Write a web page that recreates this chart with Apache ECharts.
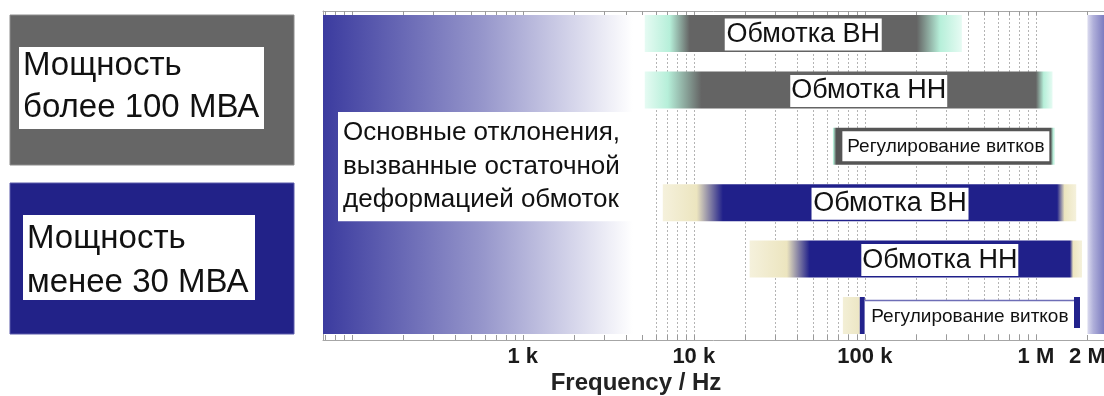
<!DOCTYPE html>
<html>
<head>
<meta charset="utf-8">
<script src="https://cdn.jsdelivr.net/npm/echarts@6.0.0/dist/echarts.min.js"></script>
<style>
html,body{margin:0;padding:0;background:#ffffff;}
#chart{width:1104px;height:396px;}
</style>
</head>
<body>
<div id="chart"></div>
<script>
// ---------------- data ----------------
const freqMin = 68;
const freqMax = 2500000;

const rowTexts = ['Обмотка ВН', 'Обмотка НН', 'Регулирование витков', 'Обмотка ВН', 'Обмотка НН', 'Регулирование витков'];
const rowClass = ['high', 'high', 'highTap', 'low', 'low', 'lowTap'];

// frequency ranges of each band (Hz)
const bandStart   = [5170,   5170,    65000,   6590,    21200,   74400];
const edgeIn      = [7240,   7050,    65500,   10400,   35000,   93400];
const coreStart   = [9470,   11100,   68000,   14800,   47600,   93400];
const coreEnd     = [201000, 1000000, 1220000, 1330000, 1580000, 1810000];
const edgeOut     = [275000, 1110000, 1260000, 1470000, 1650000, 1810000];
const bandEnd     = [369000, 1250000, 1290000, 1720000, 1860000, 1810000];

const residualBand = [freqMin, 5000];
const residualText = ['Основные отклонения,', 'вызванные остаточной', 'деформацией обмоток'];
const highBand = [2000000, freqMax];

const gridFreqs = [6000, 7000, 8000, 9000, 10000, 20000, 30000, 40000, 50000, 60000, 70000, 80000, 90000,
  100000, 200000, 300000, 400000, 500000, 600000, 700000, 800000, 900000, 1000000];
const tickFreqs = [70, 80, 90, 100, 200, 300, 400, 500, 600, 700, 800, 900, 1000, 2000, 3000, 4000, 5000,
  6000, 7000, 8000, 9000, 10000, 20000, 30000, 40000, 50000, 60000, 70000, 80000, 90000, 100000,
  200000, 300000, 400000, 500000, 600000, 700000, 800000, 900000, 1000000, 2000000];
const labelFreqs = [1000, 10000, 100000, 1000000, 2000000];
const labelTexts = ['1 k', '10 k', '100 k', '1 M', '2 M'];
const axisTitle = 'Frequency / Hz';
const legendLines = [['Мощность', 'более 100 МВА'], ['Мощность', 'менее 30 МВА']];

// ---------------- styles ----------------
const BAR_H = 0.656;
const PAL = {
  high: { soft: '#e6fbf3', edge: '#b6efd9', core: '#646464' },
  highTap: { soft: '#dff8ee', edge: '#b6efd9', core: '#555555' },
  low: { soft: '#f5f1dc', edge: '#ece5bf', core: '#20208a' },
  lowTap: { soft: '#f3efd6', edge: '#ece6c4', core: '#22228c' }
};
const FONT_WIND = '27px "Liberation Sans", Arial, sans-serif';
const FONT_TAP = '19px "Liberation Sans", Arial, sans-serif';
const FONT_NOTE = '26px "Liberation Sans", Arial, sans-serif';
const FONT_LEG = '33px "Liberation Sans", Arial, sans-serif';
const AXIS_COL = '#a6a6a6';

function renderRow(params, api) {
  const i = api.value(1);
  const cls = rowClass[i];
  const pal = PAL[cls];
  const yTop = api.coord([freqMin, i - BAR_H / 2])[1];
  const yBot = api.coord([freqMin, i + BAR_H / 2])[1];
  const px = f => api.coord([f, i])[0];
  const x0 = px(bandStart[i]), x1 = px(edgeIn[i]), x2 = px(coreStart[i]);
  const x3 = px(coreEnd[i]), x4 = px(edgeOut[i]), x5 = px(bandEnd[i]);
  const w = x5 - x0;
  const off = x => Math.min(1, Math.max(0, (x - x0) / w));
  const children = [];
  if (cls === 'lowTap') {
    children.push({ type: 'rect', shape: { x: x0, y: yTop, width: x2 - x0, height: yBot - yTop },
      style: { fill: new echarts.graphic.LinearGradient(0, 0, 1, 0, [
        { offset: 0, color: pal.soft }, { offset: 1, color: pal.edge }]) } });
    children.push({ type: 'rect', shape: { x: x2, y: yTop, width: 5, height: yBot - yTop }, style: { fill: pal.core } });
    children.push({ type: 'rect', shape: { x: x5 - 6, y: yTop, width: 6, height: yBot - yTop - 6 }, style: { fill: pal.core } });
    children.push({ type: 'rect', shape: { x: x2 + 5, y: yTop + 3, width: x5 - x2 - 11, height: yBot - yTop - 3 },
      style: { fill: '#ffffff', stroke: null } });
    children.push({ type: 'line', shape: { x1: x2 + 5, y1: yTop + 3.5, x2: x5 - 6, y2: yTop + 3.5 },
      style: { stroke: '#6e6eb6', lineWidth: 1.5 } });
    children.push({ type: 'text', x: (x2 + x5) / 2, y: (yTop + 3 + yBot) / 2,
      style: { text: rowTexts[i], font: FONT_TAP, fill: '#111111', align: 'center', verticalAlign: 'middle' } });
    return { type: 'group', children };
  }
  const grad = new echarts.graphic.LinearGradient(0, 0, 1, 0, [
    { offset: 0, color: pal.soft },
    { offset: off(x1), color: pal.edge },
    { offset: off(x2), color: pal.core },
    { offset: off(x3), color: pal.core },
    { offset: off(x4), color: pal.edge },
    { offset: 1, color: pal.soft }
  ]);
  children.push({ type: 'rect', shape: { x: x0, y: yTop, width: w, height: yBot - yTop }, style: { fill: grad } });
  const isTap = cls === 'highTap';
  const bw = isTap ? 207 : 157;
  const bh = isTap ? 30 : 32;
  const cx = isTap ? (x0 + x5) / 2 + 2 : (x2 + x3) / 2;
  const cy = (yTop + yBot) / 2 + (isTap ? 0 : 1);
  children.push({ type: 'rect', shape: { x: cx - bw / 2, y: cy - bh / 2, width: bw, height: bh }, style: { fill: '#ffffff' } });
  children.push({ type: 'text', x: cx, y: cy, style: { text: rowTexts[i], font: isTap ? FONT_TAP : FONT_WIND,
    fill: '#111111', align: 'center', verticalAlign: 'middle' } });
  return { type: 'group', children };
}

function renderResidual(params, api) {
  const yTop = api.coord([freqMin, -BAR_H / 2])[1];
  const yBot = api.coord([freqMin, 5 + BAR_H / 2])[1];
  const xa = api.coord([residualBand[0], 0])[0];
  const xb = api.coord([residualBand[1], 0])[0];
  const boxTop = api.coord([freqMin, 1.39])[1];
  const boxBot = api.coord([freqMin, 3.33])[1];
  const children = [
    { type: 'rect', shape: { x: xa, y: yTop, width: xb - xa, height: yBot - yTop },
      style: { fill: new echarts.graphic.LinearGradient(0, 0, 1, 0, [
        { offset: 0, color: '#3b3b9f' }, { offset: 0.5, color: '#9696cb' }, { offset: 0.97, color: '#ffffff' }, { offset: 1, color: '#ffffff' }]) } },
    { type: 'rect', shape: { x: xa + 15, y: boxTop, width: 297, height: boxBot - boxTop }, style: { fill: '#ffffff' } }
  ];
  residualText.forEach((t, k) => {
    children.push({ type: 'text', x: xa + 20, y: boxTop + 21 + k * 33.5,
      style: { text: t, font: FONT_NOTE, fill: '#111111', align: 'left', verticalAlign: 'middle' } });
  });
  return { type: 'group', children };
}

function renderHigh(params, api) {
  const yTop = api.coord([freqMin, -BAR_H / 2])[1];
  const yBot = api.coord([freqMin, 5 + BAR_H / 2])[1];
  const xa = api.coord([highBand[0], 0])[0];
  const xb = api.coord([highBand[1], 0])[0];
  return { type: 'rect', shape: { x: xa, y: yTop, width: xb - xa, height: yBot - yTop },
    style: { fill: new echarts.graphic.LinearGradient(0, 0, 1, 0, [
      { offset: 0, color: '#dcdcef' }, { offset: 0.35, color: '#b0b0da' }, { offset: 1, color: '#7c7cc0' }]) } };
}

function renderGrid(params, api) {
  const cs = params.coordSys;
  const x = Math.round(api.coord([api.value(0), 0])[0]) + 0.5;
  return { type: 'line', shape: { x1: x, y1: cs.y + 3, x2: x, y2: cs.y + cs.height },
    style: { stroke: '#b4b4b4', lineWidth: 1, lineDash: [2, 2] } };
}

function renderTick(params, api) {
  const cs = params.coordSys;
  const x = Math.round(api.coord([api.value(0), 0])[0]) + 0.5;
  return { type: 'group', children: [
    { type: 'line', shape: { x1: x, y1: cs.y, x2: x, y2: cs.y + 4 }, style: { stroke: '#9a9a9a', lineWidth: 1 } },
    { type: 'line', shape: { x1: x, y1: cs.y + cs.height - 5, x2: x, y2: cs.y + cs.height }, style: { stroke: '#9a9a9a', lineWidth: 1 } }
  ] };
}

const chart = echarts.init(document.getElementById('chart'), null, { renderer: 'canvas' });

const xAxisBase = {
  type: 'log', logBase: 10, min: freqMin, max: freqMax,
  axisLine: { show: true, onZero: false, lineStyle: { color: AXIS_COL, width: 1 } },
  axisTick: { show: false },
  splitLine: { show: false }, minorTick: { show: false }, minorSplitLine: { show: false }
};

const graphic = [
  { type: 'rect', shape: { x: 10, y: 15, width: 284, height: 150 }, style: { fill: '#666666', stroke: '#8c8c8c', lineWidth: 1 } },
  { type: 'rect', shape: { x: 19, y: 47, width: 245, height: 82 }, style: { fill: '#ffffff' } },
  { type: 'text', x: 23, y: 66, style: { text: legendLines[0][0], font: FONT_LEG, fill: '#111111', verticalAlign: 'middle' } },
  { type: 'text', x: 23, y: 108, style: { text: legendLines[0][1], font: FONT_LEG, fill: '#111111', verticalAlign: 'middle' } },
  { type: 'rect', shape: { x: 10, y: 183, width: 284, height: 151 }, style: { fill: '#222288', stroke: '#5a5aaa', lineWidth: 1 } },
  { type: 'rect', shape: { x: 23, y: 215, width: 232, height: 85 }, style: { fill: '#ffffff' } },
  { type: 'text', x: 27, y: 239, style: { text: legendLines[1][0], font: FONT_LEG, fill: '#111111', verticalAlign: 'middle' } },
  { type: 'text', x: 27, y: 283, style: { text: legendLines[1][1], font: FONT_LEG, fill: '#111111', verticalAlign: 'middle' } },
  { type: 'text', x: 636, y: 383, style: { text: axisTitle, font: 'bold 24px "Liberation Sans", Arial, sans-serif', fill: '#222222', align: 'center', verticalAlign: 'middle' } }
];

chart.setOption({
  animation: false,
  backgroundColor: '#ffffff',
  grid: { left: 323, right: 0, top: 11, bottom: 56, containLabel: false, outerBoundsMode: 'none' },
  xAxis: [
    Object.assign({}, xAxisBase, {
      position: 'bottom',
      axisLabel: {
        show: true, customValues: labelFreqs, margin: 6, color: '#1a1a1a',
        fontFamily: '"Liberation Sans", Arial, sans-serif', fontWeight: 'bold', fontSize: 22,
        formatter: v => { const k = labelFreqs.findIndex(f => Math.abs(f - v) / f < 1e-6); return k >= 0 ? labelTexts[k] : ''; }
      }
    }),
    Object.assign({}, xAxisBase, {
      position: 'top',
      axisLabel: { show: false }
    })
  ],
  yAxis: {
    type: 'value', inverse: true, min: -0.399, max: 5.434,
    axisLine: { show: true, onZero: false, lineStyle: { color: AXIS_COL } },
    axisTick: { show: false }, axisLabel: { show: false }, splitLine: { show: false }
  },
  series: [
    { type: 'custom', name: 'grid', xAxisIndex: 0, renderItem: renderGrid, data: gridFreqs.map(f => [f, 0]), silent: true, z: 1 },
    { type: 'custom', name: 'ticks', xAxisIndex: 0, renderItem: renderTick, data: tickFreqs.map(f => [f, 0]), silent: true, z: 1 },
    { type: 'custom', name: 'residual', xAxisIndex: 0, renderItem: renderResidual, data: [[residualBand[1], 0]], silent: true, z: 2 },
    { type: 'custom', name: 'high', xAxisIndex: 0, renderItem: renderHigh, data: [[highBand[0], 0]], silent: true, z: 2 },
    { type: 'custom', name: 'bands', xAxisIndex: 0, renderItem: renderRow, data: rowTexts.map((t, i) => [coreStart[i], i]), silent: true, z: 3 }
  ],
  graphic
});
</script>
</body>
</html>
